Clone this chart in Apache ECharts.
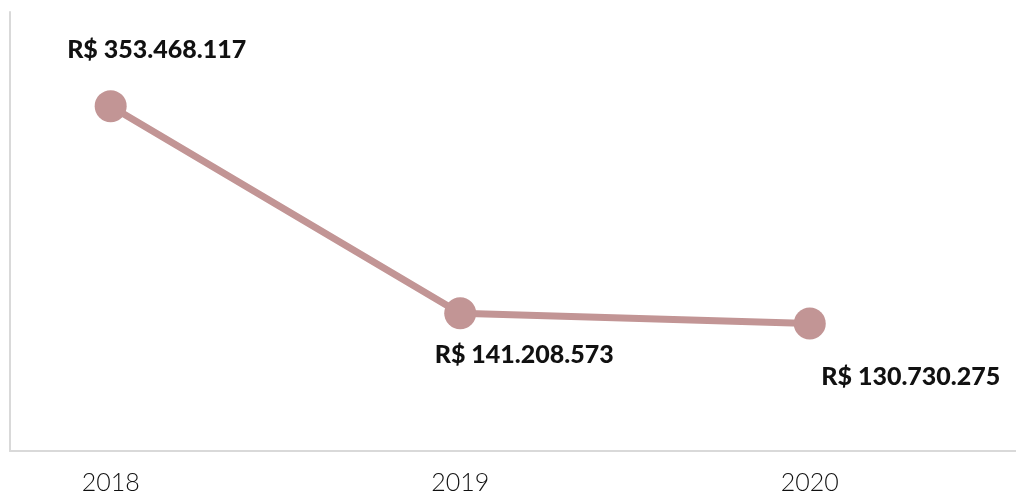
<!DOCTYPE html>
<html>
<head>
<meta charset="utf-8">
<script src="https://cdn.jsdelivr.net/npm/echarts@6/dist/echarts.min.js"></script>
<style>html,body{margin:0;padding:0;background:#fff}#c{width:1016px;height:495px}</style>
</head>
<body>
<div id="c"></div>
<script>
var years = [2018, 2019, 2020];
var values = [353468117, 141208573, 130730275];
var valueLabels = ['R$ 353.468.117', 'R$ 141.208.573', 'R$ 130.730.275'];
var labelOffsets = [[46, -56], [64, 42], [101, 53]];

var chart = echarts.init(document.getElementById('c'));
var data = years.map(function (y, i) {
  return {
    value: [y, values[i]],
    label: { offset: labelOffsets[i] }
  };
});
chart.setOption({
  animation: false,
  grid: { left: 10, right: 0, top: 12, bottom: 40 },
  xAxis: {
    type: 'value',
    min: 2017.712,
    max: 2020.59,
    splitLine: { show: false },
    axisLine: { show: true, onZero: false, lineStyle: { color: '#d9d9d9', width: 2 } },
    axisTick: { show: false },
    axisLabel: {
      customValues: years,
      formatter: function (v) { return String(v); },
      color: '#111',
      fontFamily: 'Lato',
      fontWeight: 300,
      fontSize: 25,
      margin: 19
    }
  },
  yAxis: {
    type: 'value',
    min: 0,
    max: 450000000,
    splitLine: { show: false },
    axisLine: { show: true, lineStyle: { color: '#d9d9d9', width: 2 } },
    axisTick: { show: false },
    axisLabel: { show: false }
  },
  series: [{
    type: 'line',
    data: data,
    symbol: 'circle',
    symbolSize: 32,
    lineStyle: { color: '#c29595', width: 7 },
    itemStyle: { color: '#c29595' },
    label: {
      show: true,
      position: 'inside',
      formatter: function (p) { return valueLabels[p.dataIndex]; },
      color: '#111',
      fontFamily: 'Lato',
      fontWeight: 900,
      fontSize: 25
    }
  }]
});
</script>
</body>
</html>
